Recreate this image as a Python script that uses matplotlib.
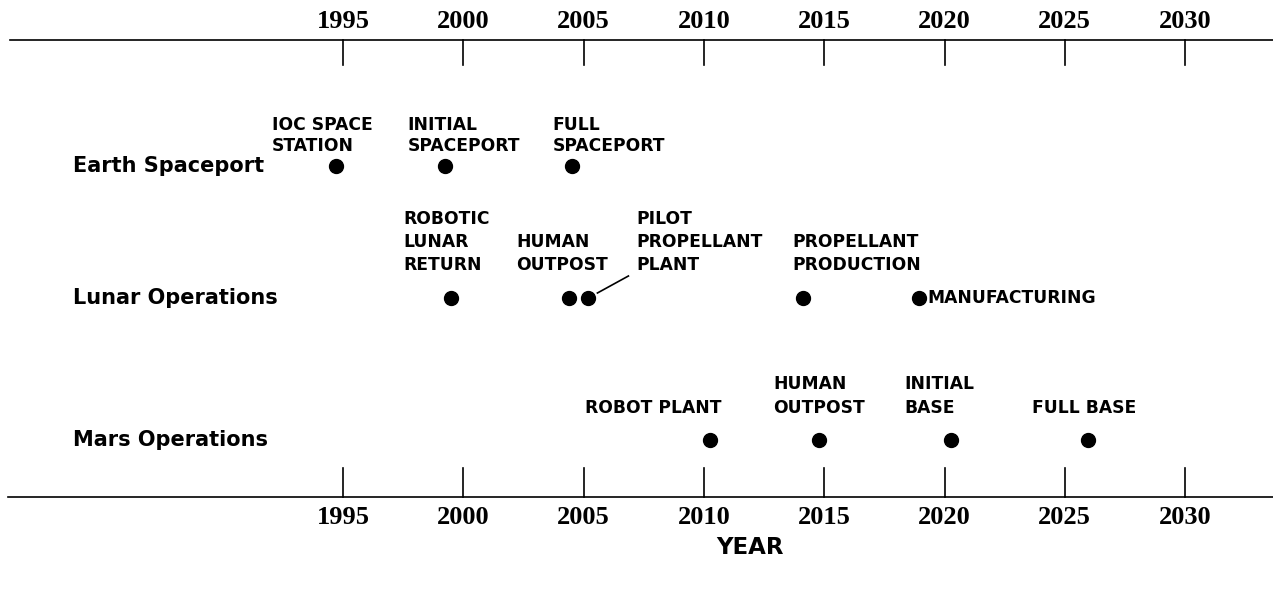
import matplotlib
matplotlib.use("Agg")
import matplotlib.pyplot as plt

# axis ticks
tickYears = [1995, 2000, 2005, 2010, 2015, 2020, 2025, 2030]

# row names
rowNames = ["Earth Spaceport", "Lunar Operations", "Mars Operations"]

# milestones per row (year of dot, label text)
earthYears = [1994.7, 1999.25, 2004.5]
earthLabels = ["IOC SPACE\nSTATION", "INITIAL\nSPACEPORT", "FULL\nSPACEPORT"]

lunarYears = [1999.5, 2004.4, 2005.2, 2014.1, 2018.95]
lunarLabels = ["ROBOTIC\nLUNAR\nRETURN", "HUMAN\nOUTPOST", "PILOT\nPROPELLANT\nPLANT",
               "PROPELLANT\nPRODUCTION", "MANUFACTURING"]

marsYears = [2010.25, 2014.8, 2020.25, 2025.95]
marsLabels = ["ROBOT PLANT", "HUMAN\nOUTPOST", "INITIAL\nBASE", "FULL BASE"]


PX_PER_YEAR = 24.06
X0 = 1995 - 343 / PX_PER_YEAR
X1 = 1995 + (1273 - 343) / PX_PER_YEAR


def px(dx):
    return dx / PX_PER_YEAR


def drawLabel(ax, x, yLast, text, gap=23):
    lines = text.split("\n")
    n = len(lines)
    for i, line in enumerate(lines):
        ax.text(x, yLast - (n - 1 - i) * gap, line, ha="left", va="center",
                fontsize=12.3, fontweight="bold", family="DejaVu Sans",
                color="black")


def plotDraw():
    fig = plt.figure(figsize=(12.73, 5.91), dpi=100)
    ax = fig.add_axes([0, 0, 1, 1])
    ax.set_xlim(X0, X1)
    ax.set_ylim(591, 0)
    ax.axis("off")

    # top and bottom time axes
    ax.plot([X0 + px(10), X1], [40, 40], color="black", lw=1.2)
    ax.plot([X0 + px(8), X1], [497, 497], color="black", lw=1.2)
    for yr in tickYears:
        ax.plot([yr, yr], [40, 65], color="black", lw=1.2)
        ax.plot([yr, yr], [468, 497], color="black", lw=1.2)
        ax.text(yr, 21, str(yr), ha="center", va="center", fontsize=19,
                fontweight="bold", family="Liberation Serif")
        ax.text(yr, 518, str(yr), ha="center", va="center", fontsize=19,
                fontweight="bold", family="Liberation Serif")
    ax.text(X0 + px(750), 548, "YEAR", ha="center", va="center", fontsize=16.5,
            fontweight="bold", family="DejaVu Sans")

    rowY = [166, 298, 440]
    for name, y in zip(rowNames, rowY):
        ax.text(X0 + px(73), y, name, ha="left", va="center", fontsize=15,
                fontweight="bold", family="DejaVu Sans")

    # Earth spaceport
    ax.plot(earthYears, [rowY[0]] * len(earthYears), "o", color="black",
            markersize=10, ls="none")
    earthOffsets = [-64, -38, -19]
    for yr, lab, off in zip(earthYears, earthLabels, earthOffsets):
        drawLabel(ax, yr + px(off), 146, lab, gap=21)

    # Lunar operations
    ax.plot(lunarYears, [rowY[1]] * len(lunarYears), "o", color="black",
            markersize=10, ls="none")
    drawLabel(ax, lunarYears[0] + px(-48), 265, lunarLabels[0])
    drawLabel(ax, lunarYears[1] + px(-53), 265, lunarLabels[1])
    drawLabel(ax, lunarYears[2] + px(48), 265, lunarLabels[2])
    drawLabel(ax, lunarYears[3] + px(-10), 265, lunarLabels[3])
    drawLabel(ax, lunarYears[4] + px(8), rowY[1], lunarLabels[4])
    # leader line to pilot plant
    ax.plot([lunarYears[2] + px(9), lunarYears[2] + px(40)], [293, 276],
            color="black", lw=1.2)

    # Mars operations
    ax.plot(marsYears, [rowY[2]] * len(marsYears), "o", color="black",
            markersize=10, ls="none")
    marsOffsets = [-125, -46, -46, -56]
    for yr, lab, off in zip(marsYears, marsLabels, marsOffsets):
        drawLabel(ax, yr + px(off), 408, lab, gap=24)

    fig.savefig("out.png", dpi=100)


if __name__ == "__main__":
    plotDraw()
